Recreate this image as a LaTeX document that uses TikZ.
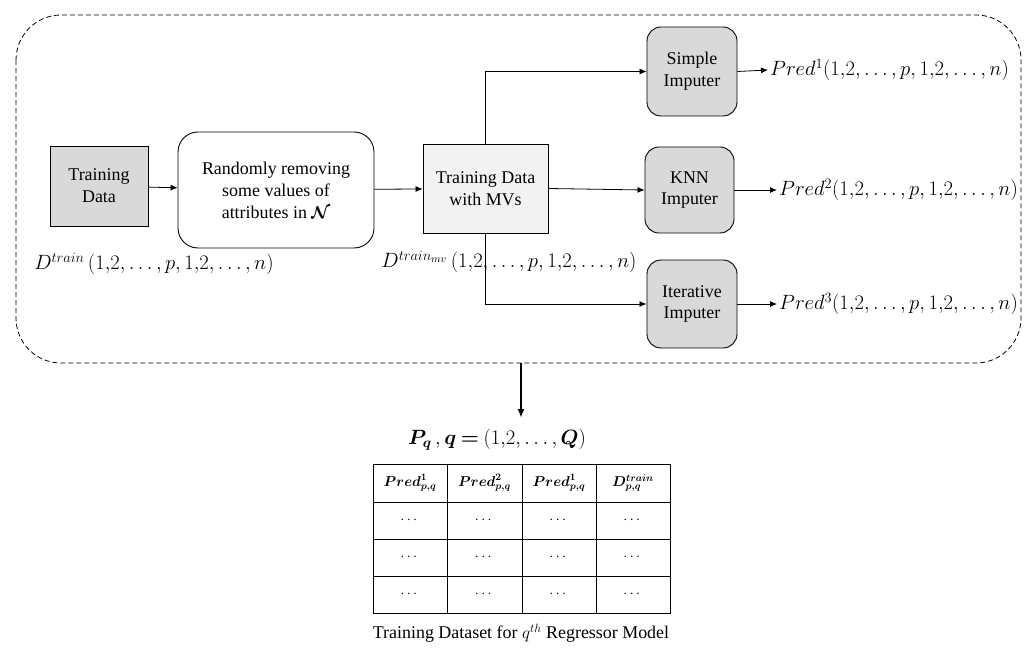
\documentclass[tikz,border=0pt]{standalone}
\usepackage{amsmath,amssymb,bm}
\usepackage{fontspec}
\setmainfont{Liberation Serif}
\usetikzlibrary{arrows.meta,calc}
\definecolor{boxgray}{HTML}{D9D9D9}
\definecolor{boxlight}{HTML}{F2F2F2}
\newcommand{\seq}{(1{,}2,\dots,p,1{,}2,\dots,n)}
\tikzset{
  base/.style={draw, line width=0.9pt, align=center, font=\fontsize{18}{22}\selectfont, inner sep=2bp},
  databox/.style={base, fill=boxgray},
  mvbox/.style={base, fill=boxlight},
  procbox/.style={base, rounded corners=20bp, fill=white},
  impbox/.style={base, rounded corners=14bp, fill=boxgray},
  flow/.style={line width=0.8pt, -{Latex[length=7bp,width=6bp]}},
  mathlbl/.style={font=\fontsize{21}{23}\selectfont, inner sep=2bp},
  cellhead/.style={font=\fontsize{14.5}{16}\selectfont, inner sep=0pt},
  celldots/.style={font=\fontsize{14}{16}\selectfont, inner sep=0pt}
}
\begin{document}
\begin{tikzpicture}[x=1bp, y=-1bp]
\useasboundingbox (0,0) rectangle (1027,648);

% dashed frame around the imputation stage
\draw[line width=0.8pt, dash pattern=on 5bp off 3bp, rounded corners=45bp] (16,15) rectangle (1021,363);
\coordinate (framebottom) at (521,363);

% main blocks
\node[databox, minimum width=98bp, minimum height=80bp] (td) at (99,186) {Training\\Data};
\node[procbox, minimum width=196bp, minimum height=116bp] (rr) at (276,190) {Randomly removing\\some values of\\attributes in $\boldsymbol{\mathcal{N}}$};
\node[mvbox, minimum width=125bp, minimum height=89bp] (mv) at (485.5,188.5) {Training Data\\with MVs};

\node[impbox, minimum width=90bp, minimum height=89bp] (si) at (692,71.5) {Simple\\Imputer};
\node[impbox, minimum width=89bp, minimum height=86bp] (knn) at (689.5,190) {KNN\\Imputer};
\node[impbox, minimum width=90bp, minimum height=88bp] (it) at (692,304) {Iterative\\Imputer};

% data labels
\node[mathlbl] (dtrain) at (154,264) {$D^{train}\,\seq$};
\node[mathlbl] (dmv) at (509,262) {$D^{train_{mv}}\,\seq$};

\node[mathlbl, anchor=west] (p1) at (768,70) {$Pred^{1}\seq$};
\node[mathlbl, anchor=west] (p2) at (777,190) {$Pred^{2}\seq$};
\node[mathlbl, anchor=west] (p3) at (777,304) {$Pred^{3}\seq$};

% connectors
\draw[flow] (td) -- (rr);
\draw[flow] (rr) -- (mv);
\draw[flow] (mv.east) -- (knn.west);
\draw[flow] (mv.north) |- (si.west);
\draw[flow] (mv.south) |- (it.west);
\draw[flow] (si.east) -- (p1.west);
\draw[flow] (knn.east) -- (p2.west);
\draw[flow] (it.east) -- (p3.west);

% resulting training table
\node[font=\fontsize{20}{22}\selectfont] (pq) at (497,440) {$\bm{P_q}\,,\bm{q} \mathbin{\bm{=}} (1{,}2,\dots,\bm{Q})$};
\draw[line width=2pt, -{Latex[length=9bp,width=7bp]}] (framebottom) -- (521,418);

\draw[line width=0.9pt] (373,464) rectangle (670,613);
\foreach \x in {447,522,596} \draw[line width=0.9pt] (\x,464) -- (\x,613);
\foreach \y in {502,539,576} \draw[line width=0.9pt] (373,\y) -- (670,\y);

\node[cellhead] (h1) at (410,483) {$\bm{Pred^{1}_{p,q}}$};
\node[cellhead] (h2) at (484.5,483) {$\bm{Pred^{2}_{p,q}}$};
\node[cellhead] (h3) at (559,483) {$\bm{Pred^{1}_{p,q}}$};
\node[cellhead] (h4) at (633,483) {$\bm{D^{train}_{p,q}}$};
\foreach \cx [count=\i] in {410,484.5,559,633}
  \foreach \cy [count=\j] in {520.5,557.5,594.5}
    \node[celldots] (c\i\j) at (\cx,\cy) {$\cdots$};

\node[font=\fontsize{18}{20}\selectfont] (cap) at (521,633) {Training Dataset for $q^{th}$ Regressor Model};
\end{tikzpicture}
\end{document}
